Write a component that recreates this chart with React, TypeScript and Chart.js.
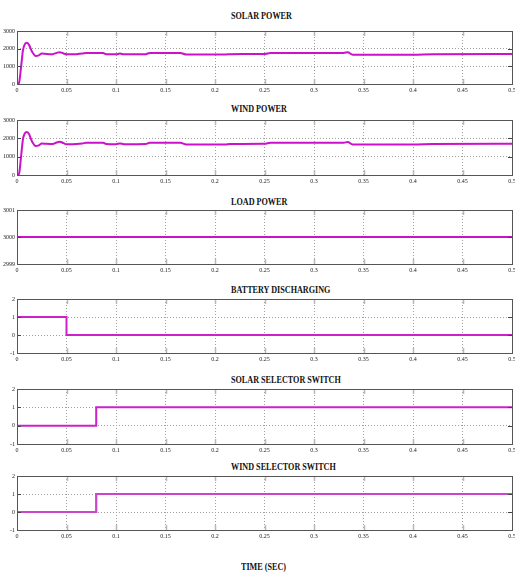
import React, { useEffect, useRef } from "react";
import { Chart, registerables } from "chart.js";

Chart.register(...registerables);

// ---------- data ----------
const xTickValues = [0, 0.05, 0.1, 0.15, 0.2, 0.25, 0.3, 0.35, 0.4, 0.45, 0.5];
const xTickLabels = ["0", "0.05", "0.1", "0.15", "0.2", "0.25", "0.3", "0.35", "0.4", "0.45", "0.5"];

const powerTicks = [0, 1000, 2000, 3000];
const loadTicks = [2999, 3000, 3001];
const switchTicks = [-1, 0, 1, 2];

const solarTimes = [0, 0.002, 0.004, 0.006, 0.0075, 0.0095, 0.012, 0.015, 0.019, 0.022, 0.025, 0.03, 0.036, 0.04, 0.043, 0.047, 0.05, 0.06, 0.066, 0.07, 0.087, 0.09, 0.1, 0.104, 0.108, 0.13, 0.134, 0.165, 0.171, 0.21, 0.215, 0.25, 0.256, 0.33, 0.334, 0.339, 0.4, 0.42, 0.5];
const solarValues = [0, 60, 900, 1900, 2200, 2330, 2230, 1850, 1580, 1620, 1720, 1700, 1690, 1760, 1800, 1730, 1680, 1690, 1720, 1760, 1760, 1690, 1680, 1720, 1680, 1690, 1760, 1760, 1670, 1670, 1690, 1700, 1760, 1760, 1800, 1660, 1660, 1690, 1700];

const windTimes = [0, 0.002, 0.004, 0.006, 0.0075, 0.0095, 0.012, 0.015, 0.019, 0.022, 0.025, 0.03, 0.036, 0.04, 0.043, 0.047, 0.05, 0.06, 0.066, 0.07, 0.087, 0.09, 0.1, 0.104, 0.108, 0.13, 0.134, 0.165, 0.171, 0.21, 0.215, 0.25, 0.256, 0.33, 0.334, 0.339, 0.4, 0.42, 0.5];
const windValues = [0, 60, 950, 1950, 2230, 2350, 2250, 1850, 1580, 1620, 1720, 1700, 1690, 1770, 1820, 1740, 1680, 1690, 1720, 1760, 1760, 1690, 1680, 1720, 1680, 1690, 1760, 1760, 1670, 1670, 1690, 1700, 1760, 1760, 1800, 1660, 1660, 1690, 1700];

const loadTimes = [0, 0.5];
const loadValues = [3000, 3000];

const batteryTimes = [0, 0.05, 0.5];
const batteryValues = [1, 0, 0];

const solarSwitchTimes = [0, 0.08, 0.5];
const solarSwitchValues = [0, 1, 1];

const windSwitchTimes = [0, 0.08, 0.5];
const windSwitchValues = [0, 1, 1];

const titles = [
  "SOLAR POWER",
  "WIND POWER",
  "LOAD POWER",
  "BATTERY DISCHARGING",
  "SOLAR SELECTOR SWITCH",
  "WIND SELECTOR SWITCH",
];
const xAxisTitle = "TIME (SEC)";

// ---------- layout ----------
const W = 515;
const PLOT_LEFT = 17;
const PLOT_RIGHT = 512;
const PAD_TOP = 6;
const X_AXIS_H = 14;

type Panel = {
  title: string;
  titleY: number;
  top: number;
  bottom: number;
  times: number[];
  values: number[];
  yTicks: number[];
  stepped: boolean;
  lineWidth: number;
  color: string;
};

const panels: Panel[] = [
  { title: titles[0], titleY: 15.5, top: 31, bottom: 84, times: solarTimes, values: solarValues, yTicks: powerTicks, stepped: false, lineWidth: 2, color: "#cc11cc" },
  { title: titles[1], titleY: 108.5, top: 120, bottom: 175, times: windTimes, values: windValues, yTicks: powerTicks, stepped: false, lineWidth: 2, color: "#cc11cc" },
  { title: titles[2], titleY: 201, top: 210, bottom: 264, times: loadTimes, values: loadValues, yTicks: loadTicks, stepped: false, lineWidth: 2, color: "#cc11cc" },
  { title: titles[3], titleY: 289.5, top: 298.5, bottom: 353, times: batteryTimes, values: batteryValues, yTicks: switchTicks, stepped: true, lineWidth: 2, color: "#cc22cc" },
  { title: titles[4], titleY: 379.5, top: 388.5, bottom: 444, times: solarSwitchTimes, values: solarSwitchValues, yTicks: switchTicks, stepped: true, lineWidth: 2, color: "#cc22cc" },
  { title: titles[5], titleY: 466, top: 476, bottom: 530, times: windSwitchTimes, values: windSwitchValues, yTicks: switchTicks, stepped: true, lineWidth: 2.2, color: "#cc44cc" },
];

const framePlugin = {
  id: "matlabFrame",
  afterDraw(chart: any) {
    const { ctx, chartArea } = chart;
    const { left, right, top, bottom } = chartArea;
    const xs = chart.scales.x;
    const ys = chart.scales.y;
    ctx.save();
    ctx.strokeStyle = "#b8b8b8";
    ctx.lineWidth = 1.5;
    ctx.setLineDash([]);
    xTickValues.forEach((v, i) => {
      if (i === 0 || i === xTickValues.length - 1) return;
      const px = Math.round(xs.getPixelForValue(v)) + 0.5;
      ctx.beginPath();
      ctx.moveTo(px, bottom);
      ctx.lineTo(px, bottom - 5);
      ctx.moveTo(px, top);
      ctx.lineTo(px, top + 5);
      ctx.stroke();
    });
    ctx.strokeStyle = "#444";
    ctx.lineWidth = 1;
    ys.ticks.forEach((t: any, i: number) => {
      if (i === 0 || i === ys.ticks.length - 1) return;
      const py = Math.round(ys.getPixelForValue(t.value)) + 0.5;
      ctx.beginPath();
      ctx.moveTo(left, py);
      ctx.lineTo(left + 4, py);
      ctx.moveTo(right, py);
      ctx.lineTo(right - 4, py);
      ctx.stroke();
    });
    ctx.strokeStyle = "#555";
    ctx.lineWidth = 1;
    ctx.strokeRect(Math.round(left) + 0.5, Math.round(top) + 0.5, Math.round(right - left), Math.round(bottom - top));
    ctx.restore();
  },
};

const tickFont = { family: "'Liberation Serif', serif", size: 6 };

function PanelChart({ p }: { p: Panel }) {
  const ref = useRef<HTMLCanvasElement | null>(null);
  const h = p.bottom - p.top + PAD_TOP + X_AXIS_H;
  useEffect(() => {
    if (!ref.current) return;
    const pts = p.times.map((t, i) => ({ x: t, y: p.values[i] }));
    const yMin = p.yTicks[0];
    const yMax = p.yTicks[p.yTicks.length - 1];
    const chart = new Chart(ref.current, {
      type: "line",
      data: {
        datasets: [
          {
            data: pts,
            borderColor: p.color,
            borderWidth: p.lineWidth,
            pointRadius: 0,
            fill: false,
            stepped: p.stepped ? "before" : false,
            cubicInterpolationMode: p.stepped ? "default" : "monotone",
          } as any,
        ],
      },
      options: {
        animation: false,
        responsive: false,
        devicePixelRatio: 1,
        layout: { padding: { top: PAD_TOP, left: 0, right: W - PLOT_RIGHT, bottom: 0 } },
        plugins: { legend: { display: false }, tooltip: { enabled: false }, title: { display: false } },
        scales: {
          x: {
            type: "linear",
            min: 0,
            max: 0.5,
            afterBuildTicks: (s: any) => {
              s.ticks = xTickValues.map((v) => ({ value: v }));
            },
            afterFit: (s: any) => {
              s.height = X_AXIS_H;
              s.paddingLeft = 0;
              s.paddingRight = 0;
            },
            ticks: {
              autoSkip: false,
              maxRotation: 0,
              padding: 3,
              color: "#222",
              font: tickFont,
              callback: (_v: any, i: number) => xTickLabels[i],
            },
            grid: { color: "#a0a0a0", lineWidth: 1, drawTicks: false },
            border: { display: false, dash: [1, 2] },
          },
          y: {
            type: "linear",
            min: yMin,
            max: yMax,
            afterBuildTicks: (s: any) => {
              s.ticks = p.yTicks.map((v) => ({ value: v }));
            },
            afterFit: (s: any) => {
              s.width = PLOT_LEFT;
              s.paddingTop = 0;
              s.paddingBottom = 0;
            },
            ticks: {
              autoSkip: false,
              padding: 2,
              color: "#222",
              font: tickFont,
              callback: (v: any) => String(v),
            },
            grid: { color: "#a0a0a0", lineWidth: 1, drawTicks: false },
            border: { display: false, dash: [1, 2] },
          },
        },
      },
      plugins: [framePlugin],
    } as any);
    return () => chart.destroy();
  }, [p]);
  return (
    <canvas
      ref={ref}
      width={W}
      height={h}
      style={{ position: "absolute", left: 0, top: p.top - PAD_TOP, width: W, height: h, display: "block" }}
    />
  );
}

const titleStyle = (y: number): React.CSSProperties => ({
  position: "absolute",
  left: 231,
  top: y - 5.5,
  font: "bold 11px 'Liberation Serif', serif",
  lineHeight: "11px",
  color: "#111",
  whiteSpace: "nowrap",
  transform: "scaleX(0.74)",
  transformOrigin: "left center",
});

export default function App() {
  useEffect(() => {
    document.body.style.margin = "0";
  }, []);
  return (
    <div style={{ position: "relative", width: W, height: 575, background: "#fff", overflow: "hidden" }}>
      {panels.map((p, i) => (
        <React.Fragment key={i}>
          <div style={titleStyle(p.titleY)}>{p.title}</div>
          <PanelChart p={p} />
        </React.Fragment>
      ))}
      <div style={{ ...titleStyle(566), left: 241 }}>{xAxisTitle}</div>
    </div>
  );
}
